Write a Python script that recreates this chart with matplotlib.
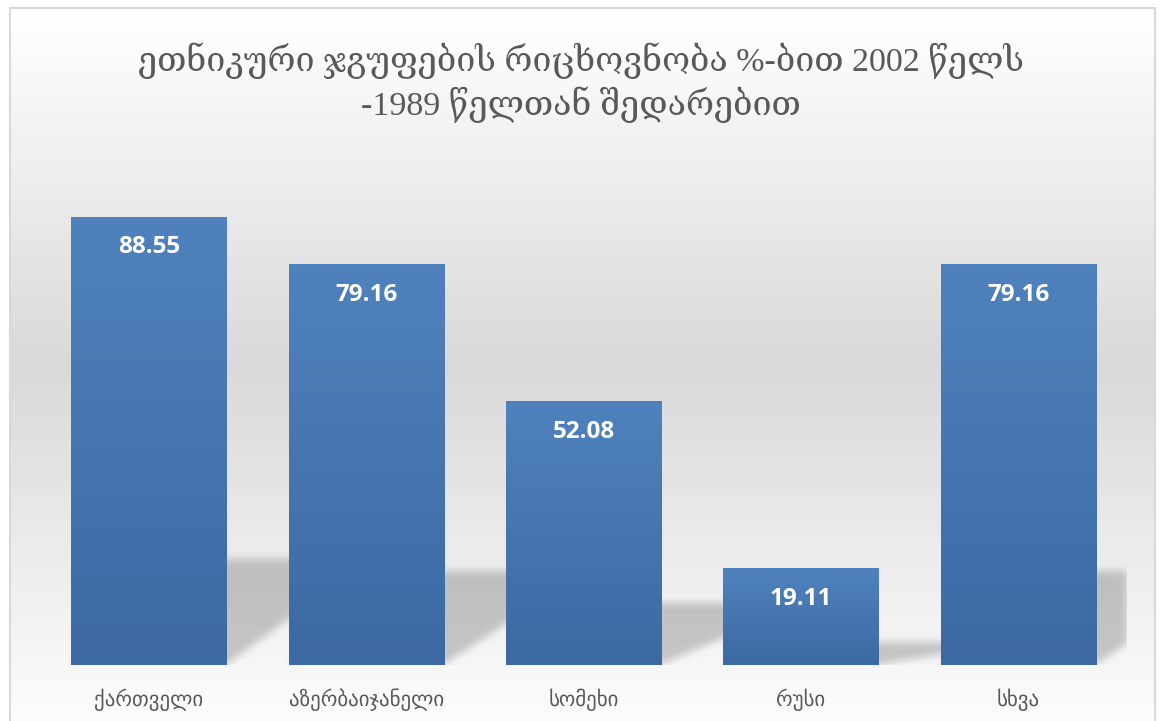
import matplotlib.pyplot as plt
import numpy as np
from matplotlib.colors import LinearSegmentedColormap
from matplotlib.patches import Rectangle

title = "ეთნიკური ჯგუფების რიცხოვნობა %-ბით 2002 წელს\n-1989 წელთან შედარებით"
categories = ["ქართველი", "აზერბაიჯანელი", "სომეხი", "რუსი", "სხვა"]
values = [88.55, 79.16, 52.08, 19.11, 79.16]

W, H = 1161, 721
fig = plt.figure(figsize=(W / 100, H / 100), dpi=100)

# background: white -> grey -> white, inside a thin grey frame
bg = fig.add_axes([0, 0, 1, 1], zorder=-5)
bg.set_axis_off()
g = np.concatenate([np.linspace(1.0, 0.85, 50), np.linspace(0.85, 0.985, 50)])
bg.imshow(np.tile(g[:, None], (1, 2)), cmap="gray", vmin=0, vmax=1,
          extent=(10 / W, 1155 / W, 0, 1 - 8 / H), aspect="auto",
          transform=fig.transFigure)
bg.set_xlim(0, 1)
bg.set_ylim(0, 1)
fig.add_artist(Rectangle((10 / W, -0.01), 1145 / W, 1 - 8 / H + 0.01,
                         transform=fig.transFigure, fill=False,
                         edgecolor="#d9d9d9", linewidth=1.5))

ax = fig.add_axes([40 / W, 56 / H, 1087 / W, 506 / H])
ax.patch.set_visible(False)
x = np.arange(len(categories))
width = 0.713
ax.set_xlim(-0.5, len(categories) - 0.5)
ax.set_ylim(0, 100)

# perspective shadow behind each bar, blurred
nx, ny = 1087, 506
gx = np.linspace(-0.5, len(categories) - 0.5, nx)
gy = np.linspace(0, 100, ny)
XX, YY = np.meshgrid(gx, gy)
mask = np.zeros_like(XX)
k, dx = 0.235, 0.66
for xi, v in zip(x, values):
    top = k * v
    t = YY / top
    inside = (YY <= top) & (XX >= xi - width / 2 + dx * t) & (XX <= xi + width / 2 + dx * t)
    mask[inside] = 1.0
kern = np.exp(-0.5 * (np.arange(-12, 13) / 4.0) ** 2)
kern /= kern.sum()
mask = np.apply_along_axis(lambda r: np.convolve(r, kern, mode="same"), 1, mask)
mask = np.apply_along_axis(lambda c: np.convolve(c, kern, mode="same"), 0, mask)
rgba = np.zeros((ny, nx, 4))
rgba[..., 3] = mask * 0.2
ax.imshow(rgba, extent=(gx[0], gx[-1], 0, 100), origin="lower", aspect="auto", zorder=1)

bars = ax.bar(x, values, width=width, color="#4a7cb8", zorder=2)
cmap = LinearSegmentedColormap.from_list("barg", ["#3c69a2", "#4f82bd"])
for b in bars:
    im = ax.imshow(np.linspace(0, 1, 100)[:, None], cmap=cmap, origin="lower",
                   extent=(b.get_x(), b.get_x() + b.get_width(), 0, b.get_height()),
                   aspect="auto", zorder=3)
    im.set_clip_path(b)

for xi, v in zip(x, values):
    ax.annotate(f"{v:.2f}", (xi, v), xytext=(0, -22), textcoords="offset points",
                ha="center", va="center", color="white", fontsize=17.5,
                fontweight="bold", family=["Open Sans", "DejaVu Sans"], zorder=4)

ax.set_xticks(x)
ax.set_xticklabels(categories, fontsize=15, color="#595959")
ax.tick_params(axis="x", length=0, pad=17)
ax.set_yticks([])
for s in ax.spines.values():
    s.set_visible(False)

fig.text(0.5, 1 - 83 / H, title, ha="center", va="center", fontsize=24.5,
         color="#595959", linespacing=1.25, multialignment="center",
         family=["Liberation Serif", "DejaVu Serif"])

fig.savefig("out.png", dpi=100)
